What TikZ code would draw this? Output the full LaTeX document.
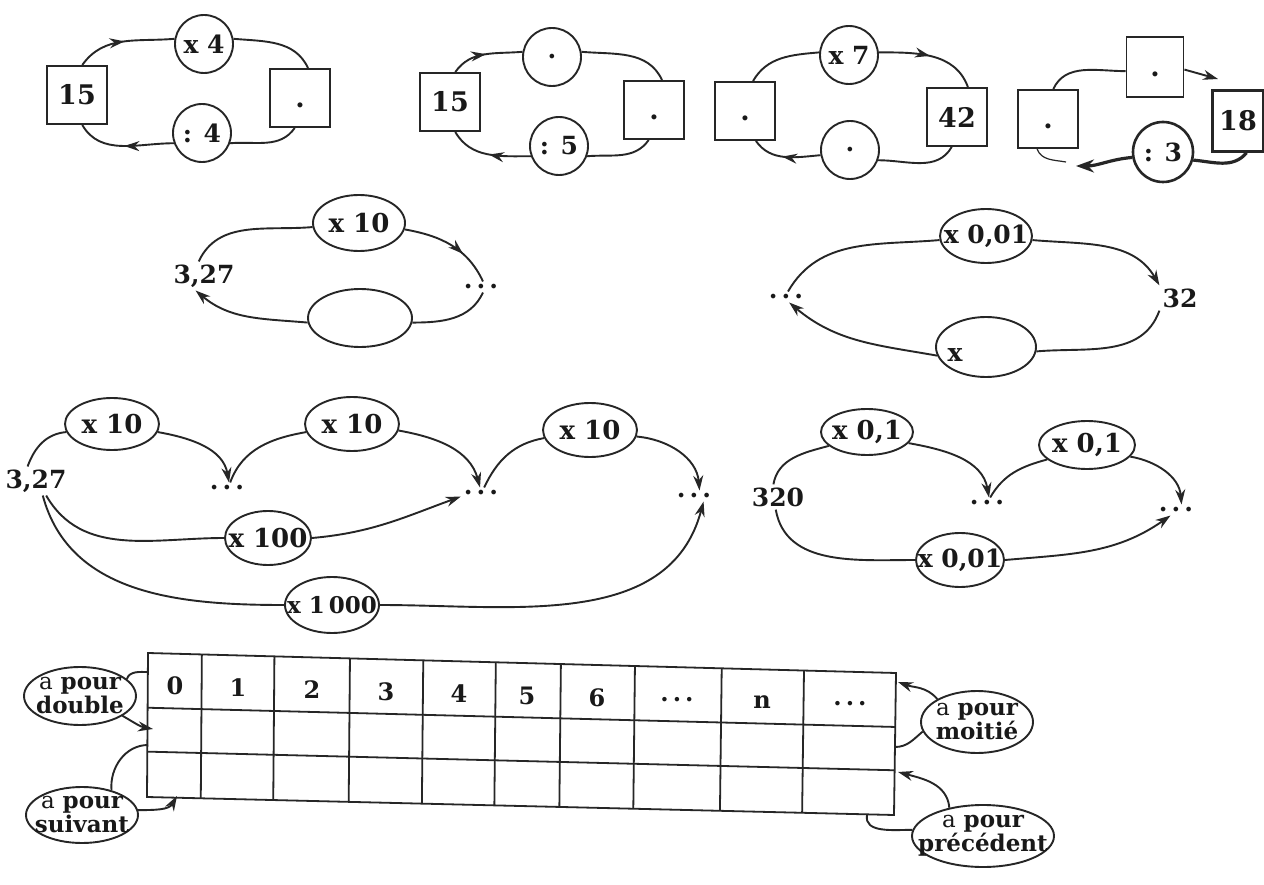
\documentclass[tikz,border=0pt]{standalone}
\usepackage{fontspec}
\setmainfont{DejaVu Serif}
\usetikzlibrary{shapes.geometric, arrows.meta, decorations.markings, calc}
\newcommand\dotrow{.\hspace{4pt}.\hspace{4pt}.}
\newcommand\zw[1]{\makebox[0pt]{#1}}
\begin{document}
\begin{tikzpicture}[x=1pt, y=-1pt,
  every node/.style={text=black!90},
  lbl/.style={font=\bfseries\fontsize{25}{27}\selectfont, inner sep=3pt},
  sq/.style={draw=black!85, line width=1.9pt, minimum width=60pt, minimum height=58pt, inner sep=0pt, font=\bfseries\fontsize{27}{29}\selectfont},
  rnd/.style={circle, draw=black!85, line width=1.9pt, minimum size=58pt, inner sep=0pt, font=\bfseries\fontsize{25}{27}\selectfont},
  ell/.style={ellipse, draw=black!85, line width=1.9pt, inner sep=0pt, font=\bfseries\fontsize{26}{28}\selectfont},
  note/.style={align=center, inner sep=0pt, font=\bfseries\fontsize{23}{24}\selectfont},
  cell/.style={font=\bfseries\fontsize{24}{26}\selectfont, inner sep=1pt},
  lnk/.style={draw=black!85, line width=1.9pt},
  heavy/.style={draw=black!85, line width=3.2pt},
  tip/.style={-{Stealth[length=15pt,width=10pt]}},
  bigtip/.style={-{Stealth[length=18pt,width=13pt]}},
  midtip/.style={postaction=decorate, decoration={markings, mark=at position #1 with {\arrow{Stealth[length=15pt,width=10pt]}}}},
  midtip/.default=0.5,
  grid/.style={draw=black!85, line width=1.8pt}]

\fill[white] (0,0) rectangle (1264,885);
\useasboundingbox (0,0) rectangle (1264,885);

% ---------- first cycle: 15, x 4, : 4 ----------
\node[sq]  (d1a) at (77,95)   {15};
\node[rnd] (d1b) at (204,44)  {x 4};
\node[sq]  (d1c) at (300,98)  {\vphantom{1}.};
\node[rnd] (d1d) at (202,133) {: 4};
\draw[lnk, midtip] (d1a.80) to[out=55,in=185] (d1b.170);
\draw[lnk] (d1b.10) to[out=-5,in=115] (d1c.75);
\draw[lnk] (d1c.-100) to[out=-125,in=5] (d1d.-20);
\draw[lnk, midtip] (d1d.200) to[out=180,in=-60] (d1a.-80);

% ---------- second cycle: 15, ?, : 5 ----------
\node[sq]  (d2a) at (450,102) {15};
\node[rnd] (d2b) at (552,57)  {.};
\node[sq]  (d2c) at (654,110) {\vphantom{1}.};
\node[rnd] (d2d) at (559,146) {: 5};
\draw[lnk, midtip] (d2a.80) to[out=55,in=185] (d2b.170);
\draw[lnk] (d2b.10) to[out=-5,in=115] (d2c.75);
\draw[lnk] (d2c.-100) to[out=-125,in=5] (d2d.-20);
\draw[lnk, midtip] (d2d.200) to[out=180,in=-60] (d2a.-80);

% ---------- third cycle: ?, x 7, 42 ----------
\node[sq]  (d3a) at (745,111) {\vphantom{1}.};
\node[rnd] (d3b) at (849,55)  {x 7};
\node[sq]  (d3c) at (957,117) {42};
\node[rnd] (d3d) at (850,150) {.\hspace{28pt}};
\draw[lnk] (d3a.75) to[out=60,in=185] (d3b.175);
\draw[lnk, midtip] (d3b.5) to[out=0,in=110] (d3c.70);
\draw[lnk] (d3c.-100) to[out=-120,in=0] (d3d.-20);
\draw[lnk, midtip=0.55] (d3d.190) to[out=185,in=-55] (d3a.-70);

% ---------- fourth cycle: ?, ?, 18, : 3 ----------
\node[sq] (d4a) at (1048,119) {\vphantom{1}.};
\node[sq, minimum width=57pt, minimum height=60pt] (d4b) at (1155,67) {\vphantom{1}.};
\node[sq, minimum width=51pt, minimum height=61pt, line width=2.6pt] (d4c) at (1238,121) {18};
\node[rnd, minimum size=60pt, line width=2.6pt] (d4d) at (1163,152) {: 3};
\coordinate (d4e) at (1218,79);
\coordinate (d4f) at (1076,166);
\coordinate (d4g) at (1066,162);
\draw[lnk] (d4a.80) to[out=65,in=180] (d4b.188);
\draw[lnk, tip] (d4b.-5) -- (d4e);
\draw[heavy] (d4c.-75) to[out=-130,in=-5] (d4d.-15);
\draw[heavy, bigtip] (d4d.190) to[out=185,in=0] (d4f);
\draw[lnk, line width=1.2pt] (d4a.-110) to[out=-70,in=170] (d4g);

% ---------- 3,27 and x 10 ----------
\node[lbl] (r2a) at (204,276) {3,27};
\node[ell, minimum width=92pt, minimum height=56pt] (r2b) at (359,223) {\zw{x 10}};
\node[lbl] (r2c) at (481,287) {\dotrow};
\node[ell, minimum width=104pt, minimum height=58pt] (r2d) at (360,318) {};
\draw[lnk] (r2a.110) to[out=65,in=185] (r2b.185);
\draw[lnk, midtip=0.65] (r2b.-8) to[out=-10,in=115] (r2c.70);
\draw[lnk] (r2c.-70) to[out=-115,in=0] (r2d.-5);
\draw[lnk, tip] (r2d.185) to[out=175,in=-40] (r2a.-120);

% ---------- x 0,01 and 32 ----------
\node[lbl] (r2e) at (786,297) {\dotrow};
\node[ell, minimum width=92pt, minimum height=54pt, font=\bfseries\fontsize{25}{27}\selectfont] (r2f) at (986,236) {\zw{x 0,01}};
\node[lbl] (r2g) at (1180,298) {32};
\node[ell, minimum width=100pt, minimum height=60pt] (r2h) at (986,347) {};
\node[lbl] (r2x) at (955,355) {x};
\draw[lnk] (r2e.70) to[out=60,in=185] (r2f.185);
\draw[lnk, tip] (r2f.-5) to[out=-5,in=120] (r2g.north west);
\draw[lnk] (r2g.south west) to[out=-110,in=5] (r2h.-5);
\draw[lnk, tip] (r2h.190) to[out=170,in=-40] (r2e.-60);

% ---------- chain of x 10 ----------
\node[lbl] (s0) at (36,481) {3,27};
\node[ell, minimum width=94pt, minimum height=52pt] (s1) at (112,424) {\zw{x 10}};
\node[lbl] (s2) at (227,488) {\dotrow};
\node[ell, minimum width=94pt, minimum height=54pt] (s3) at (352,424) {\zw{x 10}};
\node[lbl] (s4) at (481,493) {\dotrow};
\node[ell, minimum width=94pt, minimum height=54pt] (s5) at (590,430) {\zw{x 10}};
\node[lbl] (s6) at (694,496) {\dotrow};
\node[ell, minimum width=86pt, minimum height=54pt] (s7) at (268,538) {\zw{x 100}};
\node[ell, minimum width=94pt, minimum height=56pt, font=\bfseries\fontsize{23}{25}\selectfont] (s8) at (332,605) {\zw{x 1\,000}};
\draw[lnk] (s0.120) to[out=70,in=185] (s1.190);
\draw[lnk, tip] (s1.-10) to[out=-10,in=100] (s2.70);
\draw[lnk] (s2.60) to[out=70,in=190] (s3.190);
\draw[lnk, tip] (s3.-8) to[out=-10,in=105] (s4.100);
\draw[lnk] (s4.60) to[out=65,in=190] (s5.190);
\draw[lnk, tip] (s5.-8) to[out=-5,in=95] (s6.45);
\draw[lnk] (s0.-55) to[out=-60,in=180] (s7.west);
\draw[lnk, tip] (s7.east) to[out=5,in=-160] (s4.-170);
\draw[lnk] (s0.-65) to[out=-75,in=180] (s8.west);
\draw[lnk, tip] (s8.east) to[out=0,in=-105] (s6.-30);

% ---------- chain of x 0,1 ----------
\node[lbl] (t0) at (778,497) {320};
\node[ell, minimum width=92pt, minimum height=46pt] (t1) at (867,432) {\zw{x 0,1}};
\node[lbl] (t2) at (987,503) {\dotrow};
\node[ell, minimum width=96pt, minimum height=48pt] (t3) at (1087,445) {\zw{x 0,1}};
\node[lbl] (t4) at (1176,510) {\dotrow};
\node[ell, minimum width=88pt, minimum height=54pt, font=\bfseries\fontsize{25}{27}\selectfont] (t5) at (960,560) {\zw{x 0,01}};
\draw[lnk] (t0.110) to[out=80,in=195] (t1.200);
\draw[lnk, tip] (t1.-15) to[out=-10,in=100] (t2.70);
\draw[lnk] (t2.60) to[out=60,in=195] (t3.200);
\draw[lnk, tip] (t3.-15) to[out=-10,in=95] (t4.45);
\draw[lnk] (t0.-100) to[out=-80,in=180] (t5.west);
\draw[lnk, tip] (t5.east) to[out=5,in=-145] (t4.-135);

% ---------- table ----------
\coordinate (tl) at (148,653);
\coordinate (tr) at (896,673);
\coordinate (bl) at (147,797);
\coordinate (br) at (894,815);
\draw[grid] (tl) -- (tr) -- (br) -- (bl) -- cycle;
\foreach \f in {0.072,0.169,0.270,0.368,0.465,0.552,0.651,0.767,0.877}
  \draw[grid] ($(tl)!\f!(tr)$) -- ($(bl)!\f!(br)$);
\foreach \s in {0.38,0.685}
  \draw[grid] ($(tl)!\s!(bl)$) -- ($(tr)!\s!(br)$);
\node[cell] (c0) at (175,686) {0};
\node[cell] (c1) at (238,688) {1};
\node[cell] (c2) at (312,690) {2};
\node[cell] (c3) at (386,692) {3};
\node[cell] (c4) at (459,694) {4};
\node[cell] (c5) at (527,696) {5};
\node[cell] (c6) at (597,698) {6};
\node[cell] (c7) at (677,700) {\dotrow};
\node[cell] (c8) at (762,702) {n};
\node[cell] (c9) at (850,704) {\dotrow};

% anchor points on the table edges
\coordinate (tL0) at (148,672);
\coordinate (tL1) at (153,729);
\coordinate (tL2) at (148,745);
\coordinate (tB0) at (177,796);
\coordinate (tR0) at (898,682);
\coordinate (tR1) at (895,747);
\coordinate (tR2) at (898,772);
\coordinate (tB1) at (867,815);

\node[ell, minimum width=112pt, minimum height=58pt] (q1) at (80,696) {};
\node[note] (q1t) at (q1) {{\mdseries a} pour\\double};
\node[ell, minimum width=112pt, minimum height=56pt] (q2) at (82,815) {};
\node[note] (q2t) at (q2) {{\mdseries a} pour\\suivant};
\node[ell, minimum width=112pt, minimum height=62pt] (q3) at (977,722) {};
\node[note] (q3t) at (q3) {{\mdseries a} pour\\moitié};
\node[ell, minimum width=142pt, minimum height=62pt] (q4) at (983,836) {};
\node[note] (q4t) at (q4) {{\mdseries a} pour\\précédent};

\draw[lnk] (q1.20) to[out=70,in=180] (tL0);
\draw[lnk, tip] (q1.-25) to[out=-30,in=170] (tL1);
\draw[lnk] (tL2) to[out=180,in=95] (q2.40);
\draw[lnk, tip] (q2.5) to[out=0,in=-120] (tB0);
\draw[lnk, tip] (q3.150) to[out=130,in=-20] (tR0);
\draw[lnk] (q3.190) to[out=-140,in=0] (tR1);
\draw[lnk, tip] (q4.140) to[out=95,in=-15] (tR2);
\draw[lnk] (tB1) to[out=-100,in=180] (q4.175);
\end{tikzpicture}
\end{document}
